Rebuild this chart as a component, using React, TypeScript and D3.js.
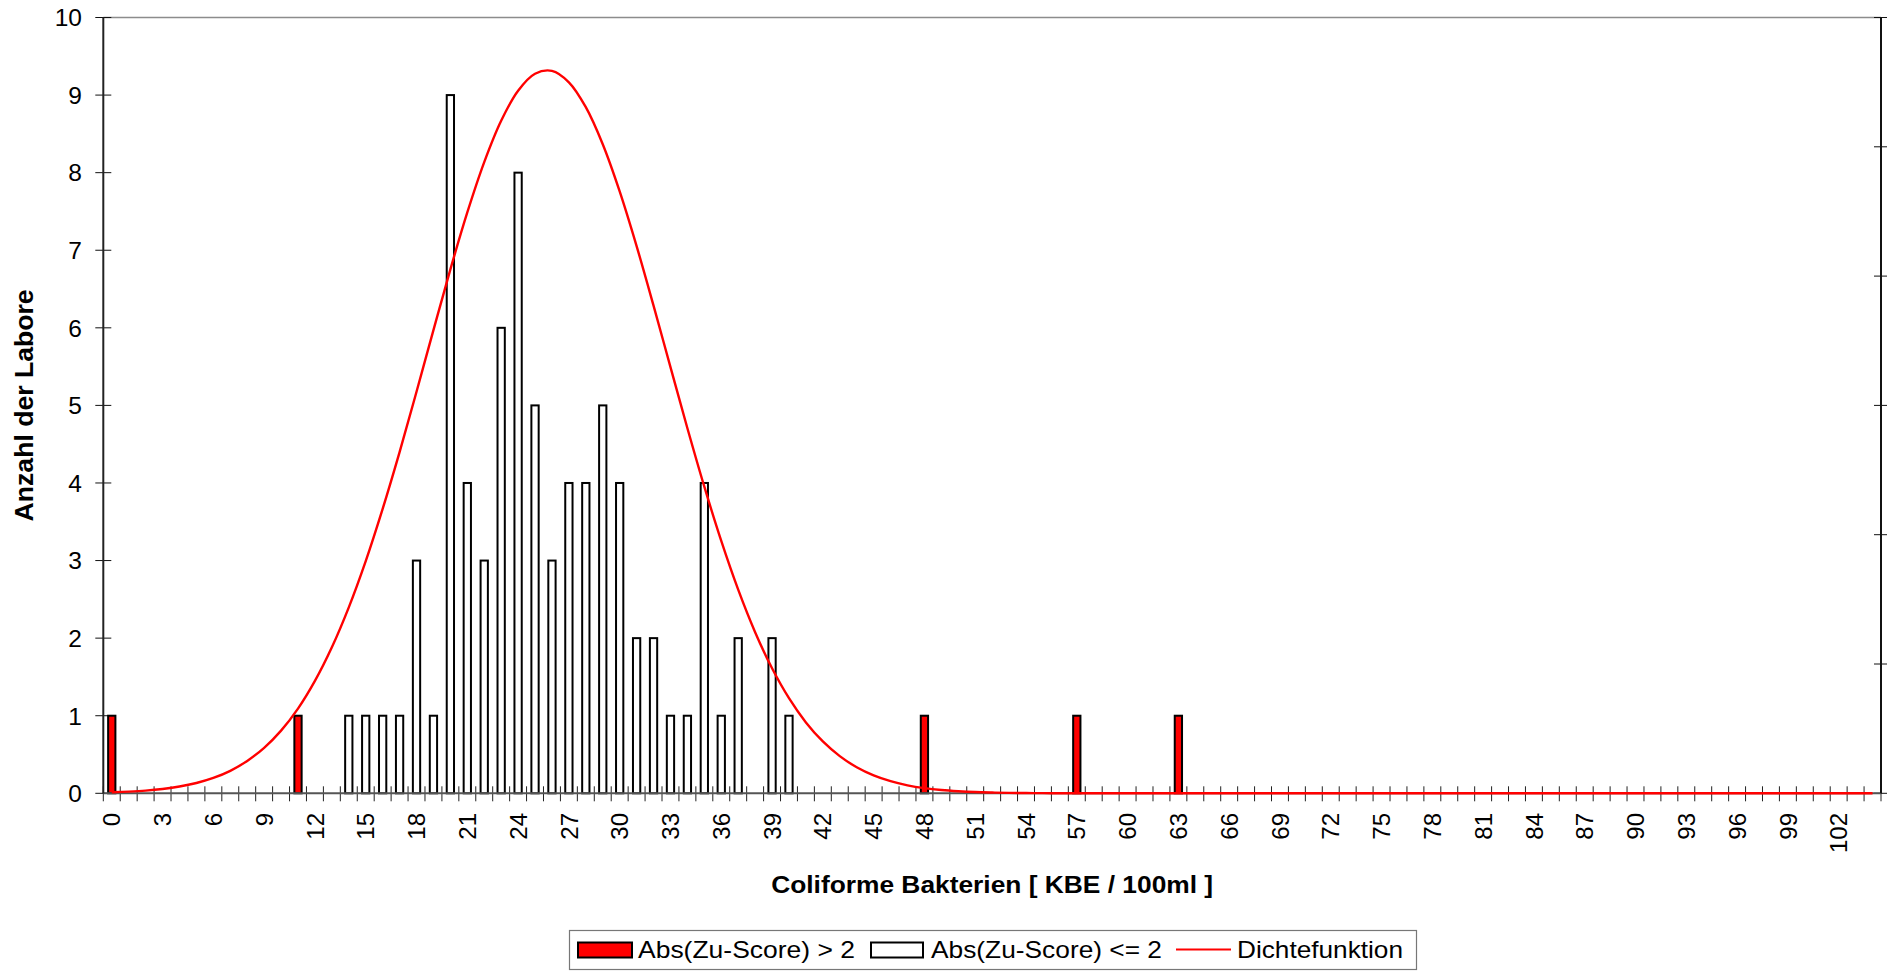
import React from "react";
import * as d3 from "d3";

// ---- data ----
const categories: number[] = d3.range(0, 105); // KBE / 100ml bins 0..104
const tickLabels: string[] = [
  "0", "3", "6", "9", "12", "15", "18", "21", "24", "27", "30", "33",
  "36", "39", "42", "45", "48", "51", "54", "57", "60", "63", "66", "69",
  "72", "75", "78", "81", "84", "87", "90", "93", "96", "99", "102",
];
const yTicks: number[] = [0, 1, 2, 3, 4, 5, 6, 7, 8, 9, 10];

// Abs(Zu-Score) > 2
const redBins: number[] = [0, 11, 48, 57, 63];
const redValues: number[] = [1, 1, 1, 1, 1];

// Abs(Zu-Score) <= 2
const whiteBins: number[] = [
  14, 15, 16, 17, 18, 19, 20, 21, 22, 23, 24, 25, 26, 27, 28, 29, 30, 31,
  32, 33, 34, 35, 36, 37, 39, 40,
];
const whiteValues: number[] = [
  1, 1, 1, 1, 3, 1, 9, 4, 3, 6, 8, 5, 3, 4, 4, 5, 4, 2,
  2, 1, 1, 4, 1, 2, 2, 1,
];

// Dichtefunktion (value at each category 0..104)
const densityValues: number[] = [
  0.013, 0.022, 0.035, 0.056, 0.087, 0.133, 0.198, 0.29, 0.417, 0.586,
  0.808, 1.092, 1.449, 1.882, 2.397, 2.993, 3.666, 4.398, 5.176, 5.971,
  6.754, 7.487, 8.136, 8.669, 9.056, 9.275, 9.312, 9.165, 8.844, 8.366,
  7.758, 7.053, 6.286, 5.493, 4.706, 3.952, 3.253, 2.625, 2.077, 1.611,
  1.226, 0.914, 0.668, 0.479, 0.336, 0.231, 0.156, 0.103, 0.067, 0.043,
  0.027, 0.016, 0.01, 0.006, 0.003, 0.002, 0.001,
  0, 0, 0, 0, 0, 0, 0, 0, 0, 0, 0, 0,
  0, 0, 0, 0, 0, 0, 0, 0, 0, 0, 0, 0,
  0, 0, 0, 0, 0, 0, 0, 0, 0, 0, 0, 0,
  0, 0, 0, 0, 0, 0, 0, 0, 0, 0, 0, 0,
];

const xTitle = "Coliforme Bakterien [ KBE / 100ml ]";
const yTitle = "Anzahl der Labore";
const legendLabels = ["Abs(Zu-Score) > 2", "Abs(Zu-Score) <= 2", "Dichtefunktion"];

const W = 1894;
const H = 971;
const FONT = "'Liberation Sans', Arial, sans-serif";

export default function App() {
  const left = 103.3;
  const right = 1881;
  const top = 17.5;
  const bottom = 793.3;

  const x = d3
    .scaleBand<number>()
    .domain(categories)
    .range([left, right])
    .padding(0);
  const y = d3.scaleLinear().domain([0, 10]).range([bottom, top]);
  const y2 = d3.scaleLinear().domain([0, 6]).range([bottom, top]);

  const bw = x.bandwidth();
  const barW = bw * 0.43;
  const cx = (c: number) => (x(c) as number) + bw / 2;

  const line = d3
    .line<number>()
    .x((_, i) => cx(categories[i]))
    .y((d) => y(d))
    .curve(d3.curveCatmullRom.alpha(0.5));

  const boundaries = d3.range(0, categories.length + 1).map((i) => left + i * bw);

  return (
    <svg
      width={W}
      height={H}
      style={{ position: "absolute", left: 0, top: 0, background: "#fff" }}
      fontFamily={FONT}
    >
      <rect x={0} y={0} width={W} height={H} fill="#fff" />

      {/* top border */}
      <line x1={left} x2={right} y1={top} y2={top} stroke="#8c8c8c" strokeWidth={1.5} />

      {/* x ticks */}
      {boundaries.map((bx, i) => (
        <line key={"xt" + i} x1={bx} x2={bx} y1={bottom - 7} y2={bottom + 8} stroke="#222" strokeWidth={1} />
      ))}

      {/* left y ticks */}
      {yTicks.map((t) => (
        <line key={"yt" + t} x1={left - 8} x2={left + 8} y1={y(t)} y2={y(t)} stroke="#111" strokeWidth={1} />
      ))}
      {/* right secondary ticks */}
      {d3.range(0, 7).map((t) => (
        <line key={"y2t" + t} x1={right - 7} x2={right + 6} y1={y2(t)} y2={y2(t)} stroke="#111" strokeWidth={1} />
      ))}

      {/* white bars */}
      {whiteBins.map((c, i) => (
        <rect
          key={"w" + c}
          x={cx(c) - barW / 2}
          y={y(whiteValues[i])}
          width={barW}
          height={bottom - y(whiteValues[i])}
          fill="#fff"
          stroke="#000"
          strokeWidth={2}
        />
      ))}
      {/* red bars */}
      {redBins.map((c, i) => (
        <rect
          key={"r" + c}
          x={cx(c) - barW / 2}
          y={y(redValues[i])}
          width={barW}
          height={bottom - y(redValues[i])}
          fill="#ff0000"
          stroke="#000"
          strokeWidth={2}
        />
      ))}

      {/* axes */}
      <line x1={left} x2={right} y1={bottom} y2={bottom} stroke="#555" strokeWidth={2} />
      <line x1={left} x2={left} y1={top} y2={bottom} stroke="#222" strokeWidth={2} />
      <line x1={right} x2={right} y1={top} y2={bottom} stroke="#111" strokeWidth={2} />

      {/* density curve */}
      <path d={line(densityValues) || ""} fill="none" stroke="#ff0000" strokeWidth={2.4} />

      {/* y labels */}
      {yTicks.map((t) => (
        <text key={"yl" + t} x={82} y={y(t)} dy="0.36em" textAnchor="end" fontSize={24.5} fill="#000">
          {t}
        </text>
      ))}

      {/* x labels */}
      {tickLabels.map((lab) => {
        const px = cx(+lab);
        return (
          <text
            key={"xl" + lab}
            transform={`translate(${px},${813}) rotate(-90)`}
            dy="0.36em"
            textAnchor="end"
            fontSize={24}
            fill="#000"
          >
            {lab}
          </text>
        );
      })}

      {/* axis titles */}
      <text
        x={(left + right) / 2}
        y={893}
        textAnchor="middle"
        fontSize={24}
        fontWeight="bold"
        textLength={442}
        lengthAdjust="spacingAndGlyphs"
      >
        {xTitle}
      </text>
      <text
        transform={`translate(${33},${(top + bottom) / 2}) rotate(-90)`}
        textAnchor="middle"
        fontSize={25}
        fontWeight="bold"
        textLength={232}
        lengthAdjust="spacingAndGlyphs"
      >
        {yTitle}
      </text>

      {/* legend */}
      <rect x={569.5} y={930.5} width={847} height={39} fill="#fff" stroke="#777" strokeWidth={1.2} />
      <rect x={578} y={942.5} width={54} height={15} fill="#ff0000" stroke="#000" strokeWidth={2} />
      <text x={638} y={958} fontSize={24.5} textLength={217} lengthAdjust="spacingAndGlyphs">
        {legendLabels[0]}
      </text>
      <rect x={871} y={942.5} width={52} height={15} fill="#fff" stroke="#000" strokeWidth={2} />
      <text x={931} y={958} fontSize={24.5} textLength={231} lengthAdjust="spacingAndGlyphs">
        {legendLabels[1]}
      </text>
      <line x1={1176} x2={1231} y1={949.5} y2={949.5} stroke="#ff0000" strokeWidth={2.2} />
      <text x={1237} y={958} fontSize={24.5} textLength={166} lengthAdjust="spacingAndGlyphs">
        {legendLabels[2]}
      </text>
    </svg>
  );
}
